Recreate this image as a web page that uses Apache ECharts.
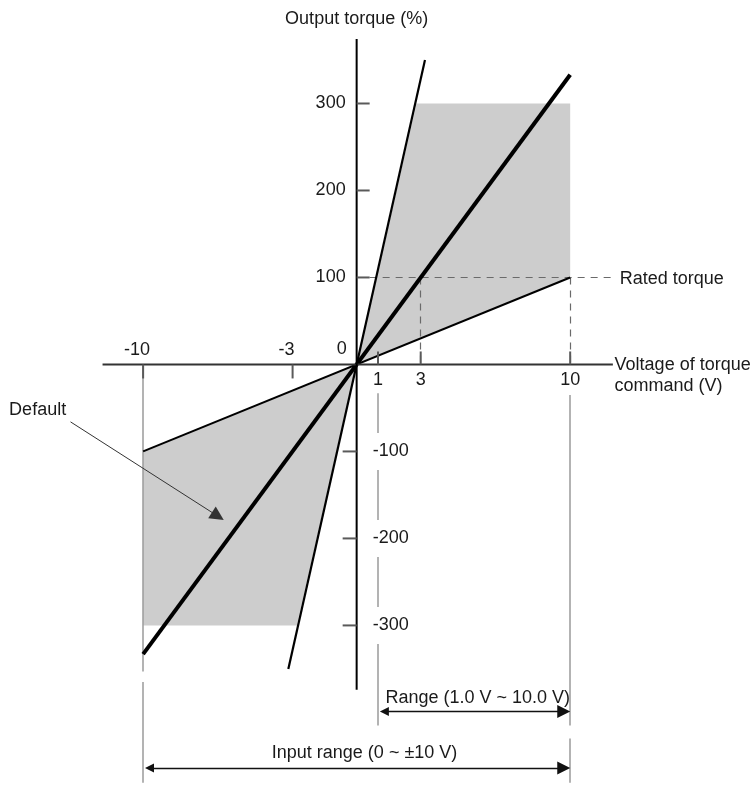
<!DOCTYPE html>
<html><head><meta charset="utf-8">
<script src="https://cdn.jsdelivr.net/npm/echarts@6/dist/echarts.min.js"></script>
<style>html,body{margin:0;padding:0;background:#fff}#c{width:753px;height:787px}</style>
</head><body><div id="c"></div>
<script>
// ---- data ----
const steepLine   = [[-3.2, -350], [3.2, 350]];
const defaultLine = [[-10, -333], [10, 333]];
const shallowLine = [[-10, -100], [10, 100]];
const shadePos = [[0, 0], [2.8, 300], [10, 300], [10, 100]];
const shadeNeg = [[0, 0], [-10, -100], [-10, -300], [-2.8, -300]];
const xTickValues = [-10, -3, 1, 3, 10];
const yTickValues = [300, 200, 100, -100, -200, -300];
const xAxisExtent = [-11.9, 12.0];
const yAxisExtent = [-374, 374];
const dashedGuides = [[[0, 100], [11.9, 100]], [[3, 100], [3, 0]], [[10, 100], [10, 0]]];
const solidGuides = [[[-10, 0], [-10, -353]], [[-10, -365], [-10, -483]], [[1, -33], [1, -415]], [[10, -35], [10, -415]], [[10, -430], [10, -483]]];
// arrow endpoints are the centres of the arrowheads (half a head inside the tip)
const rangeArrow = [[1.3, -399], [9.7, -399]];
const inputArrow = [[-9.7, -464], [9.7, -464]];
const defaultArrow = [[-13.4, -66], [-6.5, -174.4]];
const texts = [
  {pos: [0, 397], text: 'Output torque (%)', align: 'center'},
  {pos: [12.08, -13.2], text: 'Voltage of torque\ncommand (V)', align: 'left'},
  {pos: [12.32, 98.3], text: 'Rated torque', align: 'left'},
  {pos: [-14.94, -52.3], text: 'Default', align: 'center'},
  {pos: [5.67, -383.3], text: 'Range (1.0 V ~ 10.0 V)', align: 'center'},
  {pos: [0.37, -446.6], text: 'Input range (0 ~ \u00b110 V)', align: 'center'}
];
const FONT = '18px "Liberation Sans", Arial, sans-serif';
const TXT = '#1a1a1a';

function mkText(x, y, t, align, extra) {
  return {
    type: 'text',
    style: Object.assign({
      text: t, x: x, y: y, font: FONT, fill: TXT,
      align: align, verticalAlign: 'middle',
      textAlign: align, textVerticalAlign: 'middle', lineHeight: 21
    }, extra || {})
  };
}

const chart = echarts.init(document.getElementById('c'), null, {renderer: 'canvas'});
chart.setOption({
  animation: false,
  backgroundColor: '#fff',
  grid: {left: 15, right: 12, top: 16.5, bottom: 5},
  xAxis: {type: 'value', min: -16, max: 18, show: false},
  yAxis: {type: 'value', min: -480, max: 400, show: false},
  series: [
    {
      type: 'custom', name: 'shade', data: [0, 1], z: 1,
      renderItem: function (params, api) {
        const poly = [shadePos, shadeNeg][params.dataIndex];
        return {type: 'polygon', shape: {points: poly.map(p => api.coord(p))}, style: {fill: '#cdcdcd'}};
      }
    },
    {
      type: 'lines', coordinateSystem: 'cartesian2d', z: 2,
      data: solidGuides.map(c => ({coords: c})),
      lineStyle: {color: '#9a9a9a', width: 1.5, opacity: 1}
    },
    {
      type: 'lines', coordinateSystem: 'cartesian2d', z: 2,
      data: dashedGuides.map(c => ({coords: c})),
      lineStyle: {color: '#6a6a6a', width: 1.2, type: [7, 6], opacity: 1}
    },
    {type: 'line', data: shallowLine, symbol: 'none', z: 3, lineStyle: {color: '#000', width: 2}},
    {type: 'line', data: steepLine, symbol: 'none', z: 3, lineStyle: {color: '#000', width: 2.2}},
    {type: 'line', data: defaultLine, symbol: 'none', z: 4, lineStyle: {color: '#000', width: 4}},
    {
      type: 'lines', coordinateSystem: 'cartesian2d', z: 5,
      symbol: ['triangle', 'triangle'], symbolSize: [9, 13],
      data: [{coords: rangeArrow}, {coords: inputArrow}],
      lineStyle: {color: '#111', width: 1.3, opacity: 1}
    },
    {
      type: 'lines', coordinateSystem: 'cartesian2d', z: 5,
      symbol: ['none', 'triangle'], symbolSize: [10, 14],
      data: [{coords: defaultArrow}],
      lineStyle: {color: '#333', width: 1, opacity: 1}
    },
    {
      type: 'custom', name: 'axes', data: [0], z: 6,
      renderItem: function (params, api) {
        const c = (x, y) => api.coord([x, y]);
        const ch = [];
        const a0 = c(xAxisExtent[0], 0), a1 = c(xAxisExtent[1], 0);
        ch.push({type: 'line', shape: {x1: a0[0], y1: a0[1], x2: a1[0], y2: a1[1]}, style: {stroke: '#333', lineWidth: 2}});
        const b0 = c(0, yAxisExtent[0]), b1 = c(0, yAxisExtent[1]);
        ch.push({type: 'line', shape: {x1: b0[0], y1: b0[1], x2: b1[0], y2: b1[1]}, style: {stroke: '#000', lineWidth: 2}});
        xTickValues.forEach(v => {
          const p = c(v, 0);
          const d = v > 0 ? -13 : 14;
          ch.push({type: 'line', shape: {x1: p[0], y1: p[1], x2: p[0], y2: p[1] + d}, style: {stroke: '#5a5a5a', lineWidth: 2}});
          ch.push(mkText(p[0] + (v < 0 ? -6 : 0), p[1] + (v > 0 ? 16 : -14), String(v), 'center'));
        });
        const o = c(0, 0);
        ch.push(mkText(o[0] - 15, o[1] - 15, '0', 'center'));
        yTickValues.forEach(v => {
          const p = c(0, v);
          const d = v > 0 ? 13 : -14;
          ch.push({type: 'line', shape: {x1: p[0], y1: p[1], x2: p[0] + d, y2: p[1]}, style: {stroke: '#5a5a5a', lineWidth: 2}});
          if (v > 0) ch.push(mkText(p[0] - 11, p[1], String(v), 'right'));
          else ch.push(mkText(p[0] + 14, p[1], String(v), 'left', {backgroundColor: '#fff', padding: [8, 2]}));
        });
        return {type: 'group', children: ch};
      }
    },
    {
      type: 'custom', name: 'texts', data: texts.map((t, i) => i), z: 7,
      renderItem: function (params, api) {
        const t = texts[params.dataIndex];
        const p = api.coord(t.pos);
        return mkText(p[0], p[1], t.text, t.align);
      }
    }
  ]
});
</script></body></html>
